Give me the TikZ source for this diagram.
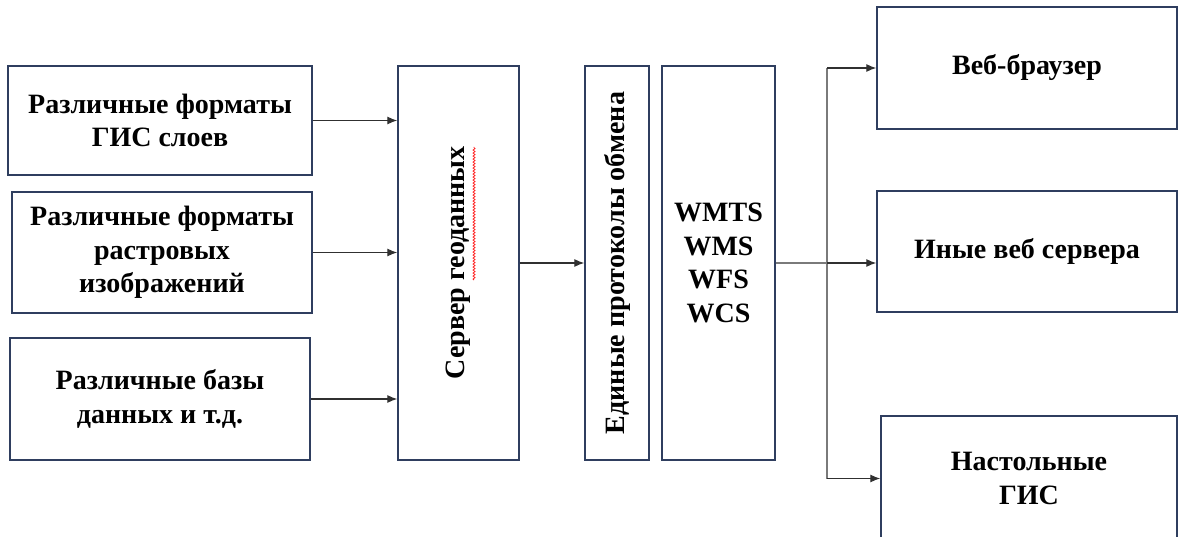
\documentclass[tikz,border=0pt]{standalone}
\usepackage{fontspec}
\setmainfont{Liberation Serif}
\usepackage{tikz}
\usetikzlibrary{arrows.meta, decorations.pathmorphing}
\definecolor{framecol}{HTML}{2F3E5F}
\definecolor{linkcol}{HTML}{303030}
\definecolor{forkcol}{HTML}{7A7A7A}
\tikzstyle{block} = [rectangle, draw=framecol, line width=1.4pt, inner sep=0pt, align=center, font=\fontsize{28}{33.5}\selectfont\bfseries]
\tikzstyle{arrow} = [draw=linkcol, line width=1.1pt, -{Latex[length=10pt,width=8pt]}]
\tikzstyle{fork} = [draw=forkcol, line width=1.1pt]

\begin{document}
\begin{tikzpicture}[x=1pt, y=-1pt]
        \useasboundingbox (0,0) rectangle (1178,537);

        \node (gis) [block, minimum width=304pt, minimum height=109pt] at (160,120.5) {Различные форматы\\ГИС слоев};
        \node (raster) [block, minimum width=300pt, minimum height=121pt] at (162,252.5) {Различные форматы\\растровых\\изображений};
        \node (db) [block, minimum width=300pt, minimum height=122pt] at (160,399) {Различные базы\\данных и т.д.};

        \node (server) [block, minimum width=121pt, minimum height=394pt] at (458.5,263) {};
        \node [rotate=90, font=\fontsize{28}{33.5}\selectfont\bfseries] at (server) {Сервер геоданных};
        \draw [red!85, line width=0.8pt, decorate, decoration={snake, amplitude=1pt, segment length=3pt}] (474,280) -- (474,147);

        \node (proto) [block, minimum width=64pt, minimum height=394pt] at (617,263) {};
        \node [rotate=90, font=\fontsize{28}{33.5}\selectfont\bfseries] at (proto) {Единые протоколы обмена};
        \node (wmts) [block, minimum width=113pt, minimum height=394pt] at (718.5,263) {WMTS\\WMS\\WFS\\WCS};

        \node (web) [block, minimum width=300pt, minimum height=122pt] at (1027,68) {Веб-браузер};
        \node (other) [block, minimum width=300pt, minimum height=121pt] at (1027,251.5) {Иные веб сервера};
        \node (desk) [block, minimum width=296pt, minimum height=125pt] at (1029,478.5) {Настольные\\ГИС};

        \coordinate (split) at (827,263);

        \draw [arrow] (gis) -- (server.west |- gis);
        \draw [arrow] (raster) -- (server.west |- raster);
        \draw [arrow] (db) -- (server.west |- db);
        \draw [arrow] (server) -- (proto);
        \draw [fork] (wmts.east) -- (split);
        \draw [fork] (split |- web) -- (split |- desk);
        \draw [arrow] (split |- web) -- (web.west);
        \draw [arrow] (split) -- (other.west |- split);
        \draw [arrow] (split |- desk) -- (desk.west);
    \end{tikzpicture}
\end{document}
